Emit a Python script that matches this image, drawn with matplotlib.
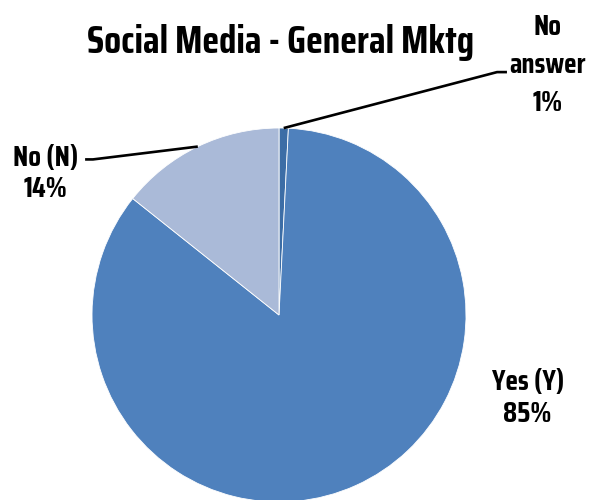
import numpy as np
import matplotlib
matplotlib.use("Agg")
import matplotlib.pyplot as plt

plt.rcParams['font.family'] = ['Saira Condensed', 'DejaVu Sans']

title = "Social Media - General Mktg"
labels = ["No\nanswer", "Yes (Y)", "No (N)"]
shares = [0.8, 84.9, 14.3]
colors = ["#3C6DA6", "#4F81BD", "#AABAD8"]

fig = plt.figure(figsize=(5.91, 5.0), dpi=100)
ax = fig.add_axes([0.1557, -0.004, 0.6328, 0.748])
wedges, _ = ax.pie(shares, colors=colors, startangle=90, counterclock=False,
                   radius=1, wedgeprops=dict(edgecolor="white", linewidth=0.6))
ax.set_xlim(-1, 1)
ax.set_ylim(-1, 1)
ax.set_aspect("equal")
ax.axis("off")

def mid_point(w):
    a = np.deg2rad((w.theta1 + w.theta2) / 2)
    return np.cos(a), np.sin(a)

txt = dict(fontsize=21, fontweight="bold", ha="center", va="center",
           clip_on=False)
line = dict(color="black", lw=1.9, clip_on=False, solid_capstyle="butt")

# yes label, no leader line
ax.text(1.33, -0.445, f"{labels[1]}\n{shares[1]:.0f}%", linespacing=1.2, **txt)

# no (N) label with leader
ax.text(-1.25, 0.757, f"{labels[2]}\n{shares[2]:.0f}%", linespacing=1.15, **txt)
mx, my = mid_point(wedges[2])
ax.plot([-1.037, -0.995, mx], [0.832, 0.832, my], **line)

# no answer label with bent leader
ax.text(1.435, 1.335, f"{labels[0]}\n{shares[0]:.0f}%", linespacing=1.45, **txt)
mx, my = mid_point(wedges[0])
ax.plot([mx, 1.166, 1.219], [my, 1.299, 1.299], **line)

fig.text(0.474, 0.915, title, fontsize=28, fontweight="bold",
         ha="center", va="center")

fig.savefig("out.png", dpi=100)
